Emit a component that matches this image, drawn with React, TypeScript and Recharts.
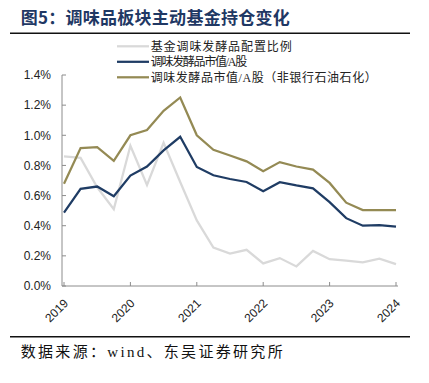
import React from 'react';
import { LineChart, Line, XAxis, YAxis, Legend } from 'recharts';

const quarters = [
  '2019Q1', '2019Q2', '2019Q3', '2019Q4',
  '2020Q1', '2020Q2', '2020Q3', '2020Q4',
  '2021Q1', '2021Q2', '2021Q3', '2021Q4',
  '2022Q1', '2022Q2', '2022Q3', '2022Q4',
  '2023Q1', '2023Q2', '2023Q3', '2023Q4',
  '2024Q1'
];

// 基金调味发酵品配置比例 (%)
const fundWeight = [0.86, 0.85, 0.655, 0.51, 0.93, 0.67, 0.95, 0.69, 0.435, 0.255, 0.215, 0.24, 0.15, 0.185, 0.13, 0.233, 0.178, 0.168, 0.157, 0.182, 0.145];
// 调味发酵品市值/A股 (%)
const mvShare = [0.487, 0.645, 0.66, 0.595, 0.733, 0.793, 0.9, 0.99, 0.79, 0.735, 0.71, 0.69, 0.629, 0.689, 0.667, 0.648, 0.556, 0.45, 0.4, 0.404, 0.394];
// 调味发酵品市值/A股（非银行石油石化） (%)
const mvShareEx = [0.678, 0.915, 0.922, 0.831, 1.0, 1.035, 1.162, 1.251, 1.0, 0.904, 0.866, 0.827, 0.762, 0.822, 0.793, 0.772, 0.684, 0.553, 0.504, 0.504, 0.504];

const yTicks = [0, 0.2, 0.4, 0.6, 0.8, 1.0, 1.2, 1.4];

const series = [
  { key: 'fund', name: '基金调味发酵品配置比例', color: '#d9d9d9' },
  { key: 'mv', name: '调味发酵品市值/A股', color: '#1f3c64' },
  { key: 'mvEx', name: '调味发酵品市值/A股（非银行石油石化）', color: '#948a54' }
];

const data = quarters.map((q, i) => ({
  q,
  fund: fundWeight[i],
  mv: mvShare[i],
  mvEx: mvShareEx[i]
}));

const axisColor = '#8c8c8c';
const labelFont = "'Liberation Sans', Arial, sans-serif";
const cjkFont = "'Liberation Serif', 'Noto Sans CJK SC', serif";

function YearTick(props: any) {
  const { x, y, payload } = props;
  const tx = x + 5;
  return (
    <text
      x={tx}
      y={y}
      transform={`rotate(-45, ${tx}, ${y})`}
      textAnchor="end"
      fontSize={12}
      fontFamily={labelFont}
      fill="#222"
    >
      {String(payload.value).slice(0, 4)}
    </text>
  );
}

const legendTextWidths = [141, 96.5, 226];

function LegendBox() {
  return (
    <svg width={300} height={50} style={{ display: 'block' }}>
      {series.map((s, i) => {
        const cy = 8.3 + i * 15.5;
        return (
          <g key={s.key}>
            <line x1={7} x2={39} y1={cy} y2={cy} stroke={s.color} strokeWidth={2.25} />
            <text
              x={40.7}
              y={cy + 4.5}
              fontFamily={cjkFont}
              fontSize={12}
              fill="#222"
              textLength={legendTextWidths[i]}
              lengthAdjust="spacing"
            >
              {s.name}
            </text>
          </g>
        );
      })}
    </svg>
  );
}

export default function App() {
  return (
    <div style={{ position: 'absolute', left: 0, top: 0, width: 429, height: 383, background: '#fff' }}>
      <LineChart
        width={429}
        height={383}
        data={data}
        margin={{ top: 75, right: 31, left: 0, bottom: 57 }}
      >
        <XAxis
          dataKey="q"
          interval={3}
          height={40}
          padding={{ left: 2, right: 2 }}
          axisLine={{ stroke: axisColor }}
          tickLine={{ stroke: axisColor }}
          tickSize={-4}
          tickMargin={22}
          tick={<YearTick />}
        />
        <YAxis
          domain={[0, 1.4]}
          ticks={yTicks}
          width={62}
          axisLine={{ stroke: axisColor }}
          tickLine={{ stroke: axisColor }}
          tickSize={-4}
          tickMargin={15}
          tickFormatter={(v: number) => v.toFixed(1) + '%'}
          tick={{ fontSize: 12, fill: '#222', fontFamily: labelFont }}
        />
        <Legend
          layout="horizontal"
          verticalAlign="middle"
          align="center"
          content={<LegendBox />}
          wrapperStyle={{ position: 'absolute', left: 110, top: 38, width: 300, height: 50 }}
        />
        {series.map((s) => (
          <Line
            key={s.key}
            type="linear"
            dataKey={s.key}
            name={s.name}
            stroke={s.color}
            strokeWidth={2.25}
            dot={false}
            isAnimationActive={false}
          />
        ))}
      </LineChart>
      <svg
        width={429}
        height={383}
        style={{ position: 'absolute', left: 0, top: 0, pointerEvents: 'none' }}
      >
        <text
          x={20.7}
          y={24}
          fontFamily="'Noto Sans CJK SC', sans-serif"
          fontWeight="bold"
          fontSize={17}
          fill="#1f3864"
          textLength={269}
          lengthAdjust="spacing"
        >
          图5：调味品板块主动基金持仓变化
        </text>
        <line x1={10} x2={410} y1={33.3} y2={33.3} stroke="#111" strokeWidth={1.5} />
        <line x1={10} x2={410} y1={336.7} y2={336.7} stroke="#111" strokeWidth={1.5} />
        <text
          x={20.7}
          y={356.5}
          fontFamily={cjkFont}
          fontSize={15}
          fill="#111"
          textLength={262}
          lengthAdjust="spacing"
        >
          数据来源：wind、东吴证券研究所
        </text>
      </svg>
    </div>
  );
}
